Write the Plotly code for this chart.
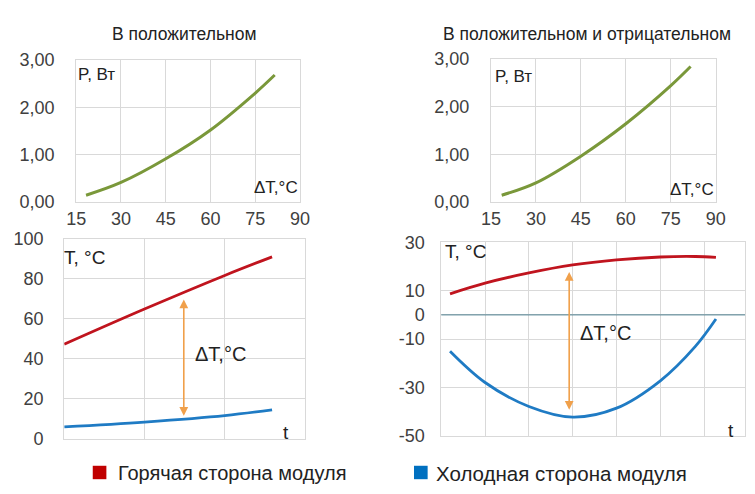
import plotly.graph_objects as go

# ---- data ----
dT_left = [18.3, 30, 45, 60, 75, 81.5]
P_left = [0.14, 0.41, 0.91, 1.52, 2.30, 2.68]
dT_right = [18.6, 30, 45, 60, 75, 81.6]
P_right = [0.14, 0.40, 0.96, 1.64, 2.44, 2.84]
P_tickvals = [0, 1, 2, 3]
P_ticktext = ["0,00", "1,00", "2,00", "3,00"]
dT_ticks = [15, 30, 45, 60, 75, 90]

t_left = [0, 1, 2, 2.59]
hot_left = [47.2, 64.8, 81.6, 90.9]
cold_left = [5.9, 8.3, 11.5, 14.4]
T_left_ticks = [0, 20, 40, 60, 80, 100]

t_right = [0.2, 1, 2, 3, 4, 5, 5.8, 6.27]
hot_right = [8.7, 13.1, 17.3, 20.6, 22.7, 23.9, 24.1, 23.7]
cold_right = [-15.0, -27.9, -37.8, -42.2, -38.5, -27.2, -13.0, -1.7]
T_right_tickvals = [30, 10, 0, -10, -30, -50]
T_right_ticktext = ["30", "10", "0", "-10", "-30", "-50"]

arrow_left = (1.49, 69.6, 10.7)
arrow_right = (2.92, 17.7, -39.8)

titles = ["В положительном", "В положительном и отрицательном"]
legend_names = ["Горячая сторона модуля", "Холодная сторона модуля"]

# ---- styling ----
W, H = 755, 494
FONT = "Liberation Sans, Arial, sans-serif"
TXT = "#404040"
DARK = "#222222"
GRID = "#d9d9d9"
GREEN = "#7a983a"
RED = "#c0141e"
BLUE = "#1f7bc4"
ORANGE = "#f0a04b"


def fx(p):
    return p / W


def fy(p):
    return 1 - p / H


fig = go.Figure()

fig.add_trace(go.Scatter(x=dT_left, y=P_left, mode="lines", xaxis="x", yaxis="y",
                         line=dict(color=GREEN, width=3, shape="spline"), showlegend=False))
fig.add_trace(go.Scatter(x=dT_right, y=P_right, mode="lines", xaxis="x2", yaxis="y2",
                         line=dict(color=GREEN, width=3, shape="spline"), showlegend=False))
fig.add_trace(go.Scatter(x=t_left, y=hot_left, mode="lines", xaxis="x3", yaxis="y3",
                         line=dict(color=RED, width=2.8, shape="spline"), showlegend=False))
fig.add_trace(go.Scatter(x=t_left, y=cold_left, mode="lines", xaxis="x3", yaxis="y3",
                         line=dict(color=BLUE, width=2.8, shape="spline"), showlegend=False))
fig.add_trace(go.Scatter(x=t_right, y=hot_right, mode="lines", xaxis="x4", yaxis="y4",
                         line=dict(color=RED, width=2.8, shape="spline"), showlegend=False))
fig.add_trace(go.Scatter(x=t_right, y=cold_right, mode="lines", xaxis="x4", yaxis="y4",
                         line=dict(color=BLUE, width=2.8, shape="spline"), showlegend=False))

tickfont = dict(family=FONT, size=18, color=TXT)
common = dict(showgrid=True, gridcolor=GRID, gridwidth=1, zeroline=False,
              showline=True, linecolor=GRID, mirror=True, tickfont=tickfont, fixedrange=True)

fig.update_layout(
    width=W, height=H, margin=dict(l=0, r=0, t=0, b=0),
    paper_bgcolor="white", plot_bgcolor="white",
    font=dict(family=FONT, color=TXT),
    xaxis=dict(domain=[fx(68), fx(298)], range=[15, 90], tickvals=dT_ticks, anchor="y",
               ticklabelstandoff=0, **common),
    yaxis=dict(domain=[fy(200), fy(52)], range=[0, 3], tickvals=P_tickvals, ticktext=P_ticktext,
               anchor="x", ticklabelstandoff=17, **common),
    xaxis2=dict(domain=[fx(494), fx(725)], range=[15, 90], tickvals=dT_ticks, anchor="y2",
                ticklabelstandoff=0, **common),
    yaxis2=dict(domain=[fy(200), fy(51)], range=[0, 3], tickvals=P_tickvals, ticktext=P_ticktext,
                anchor="x2", ticklabelstandoff=17, **common),
    xaxis3=dict(domain=[fx(55.7), fx(303)], range=[0, 3], dtick=1, showticklabels=False,
                anchor="y3", **common),
    yaxis3=dict(domain=[fy(446.7), fy(238.3)], range=[0, 100], tickvals=T_left_ticks,
                anchor="x3", ticklabelstandoff=16, **common),
    xaxis4=dict(domain=[fx(443), 1.0], range=[0, (W - 443) / 45.0], dtick=1, showticklabels=False,
                anchor="y4", **common),
    yaxis4=dict(domain=[fy(444), fy(242)], range=[-50, 30], tickvals=T_right_tickvals,
                ticktext=T_right_ticktext, anchor="x4", ticklabelstandoff=12, **common),
)

# zero line on bottom-right chart
fig.add_shape(type="line", xref="x4 domain", yref="y4", x0=0, x1=1, y0=0, y1=0,
              line=dict(color="#4f8190", width=1))


def A(text, x, y, xref="paper", yref="paper", size=19, xa="center", ya="middle", color=DARK):
    return dict(text=text, x=x, y=y, xref=xref, yref=yref, xanchor=xa, yanchor=ya,
                showarrow=False, font=dict(family=FONT, size=size, color=color))


ann = []
# titles
ann.append(A(titles[0], fx(179), fy(25), size=17.5))
ann.append(A(titles[1], fx(593), fy(25), size=17.5))
# inner labels of the top charts
ann.append(A("P, Вт", 0.0, 0.9, "x domain", "y domain", size=17, xa="left"))
ann.append(A("ΔT,°C", 1.0, 0.1, "x domain", "y domain", size=17, xa="right"))
ann.append(A("P, Вт", 0.01, 0.88, "x2 domain", "y2 domain", size=17, xa="left"))
ann.append(A("ΔT,°C", 1.0, 0.09, "x2 domain", "y2 domain", size=17, xa="right"))
# inner labels of the bottom charts
ann.append(A("T, °C", -0.01, 0.905, "x3 domain", "y3 domain", xa="left"))
ann.append(A("t", 0.92, 0.03, "x3 domain", "y3 domain"))
ann.append(A("T, °C", 0.005, 0.95, "x4 domain", "y4 domain", xa="left"))
ann.append(A("t", (741 - 443) / (W - 443), 0.03, "x4 domain", "y4 domain"))
ann.append(A("ΔT,°C", 1.95, 42.5, "x3", "y3", size=20))
ann.append(A("ΔT,°C", 3.74, -7.4, "x4", "y4", size=20))

# double-headed arrows
for (xa, ya, a) in [("x3", "y3", arrow_left), ("x4", "y4", arrow_right)]:
    ann.append(dict(x=a[0], y=a[1], ax=a[0], ay=a[2], xref=xa, yref=ya, axref=xa, ayref=ya,
                    text="", showarrow=True, arrowhead=2, startarrowhead=2, arrowside="end+start",
                    arrowsize=1.1, startarrowsize=1.1, arrowwidth=1.6, arrowcolor=ORANGE))

# legend
ann.append(A(legend_names[0], fx(109), fy(483), size=20, xa="left"))
ann.append(A(legend_names[1], fx(436), fy(483), size=20.5, xa="left"))
fig.add_shape(type="rect", xref="paper", yref="paper", x0=fx(85), x1=fx(99), y0=fy(489), y1=fy(475),
              fillcolor="#c00000", line=dict(width=0))
fig.add_shape(type="rect", xref="paper", yref="paper", x0=fx(415), x1=fx(429), y0=fy(489), y1=fy(475),
              fillcolor="#0070c0", line=dict(width=0))

fig.update_layout(annotations=ann)
fig.write_html("out.html")
